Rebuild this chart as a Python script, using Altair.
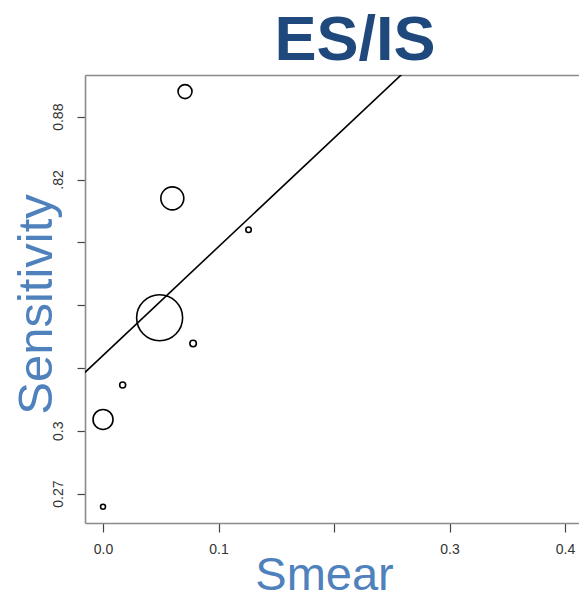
import altair as alt
import pandas as pd

# ---- data ----
smear = [0.071, 0.060, 0.126, 0.049, 0.078, 0.017, 0.0, 0.0]
sens_pos = [6.40, 4.70, 4.20, 2.80, 2.39, 1.73, 1.18, -0.21]   # position in y-tick units
weight = [196, 529, 30, 2116, 42, 36, 400, 25]                  # bubble weights (relative area)

x_ticks = [0.0, 0.1, 0.2, 0.3, 0.4]
x_labels = ["0.0", "0.1", "", "0.3", "0.4"]
y_ticks = [0, 1, 2, 3, 4, 5, 6]
y_labels = ["0.27", "0.3", "", "", "", ".82", "0.88"]

x_domain = [-0.0156, 0.4121]
y_domain = [-0.468, 6.664]

fit_intercept = 2.20
fit_slope = 17.3

pts = pd.DataFrame({"Smear": smear, "Sens": sens_pos, "Weight": weight})
fit = pd.DataFrame({"Smear": x_domain,
                    "Sens": [fit_intercept + fit_slope * v for v in x_domain]})


def label_expr(ticks, labels):
    expr = "''"
    for t, l in reversed(list(zip(ticks, labels))):
        expr = f"abs(datum.value - {t}) < 1e-6 ? '{l}' : ({expr})"
    return expr


FONT = "Liberation Sans"
FRAME = "#8a8a8a"

x_scale = alt.Scale(domain=x_domain, nice=False, zero=False)
y_scale = alt.Scale(domain=y_domain, nice=False, zero=False)

x_axis = alt.Axis(
    orient="bottom",
    values=x_ticks, labelExpr=label_expr(x_ticks, x_labels), grid=False,
    tickSize=9, tickColor="#444444", tickWidth=1.2,
    domainColor=FRAME, domainWidth=1.6,
    labelFont=FONT, labelFontSize=14, labelColor="#333333", labelPadding=10,
    title="Smear", titleFont=FONT, titleFontSize=47, titleFontWeight="normal",
    titleColor="#4F81BD", titleX=239, titleY=66, titleAlign="center",
    titleBaseline="alphabetic",
)
y_axis = alt.Axis(
    values=y_ticks, labelExpr=label_expr(y_ticks, y_labels), grid=False,
    tickSize=8, tickColor="#444444", tickWidth=1.2,
    domainColor=FRAME, domainWidth=1.6,
    labelFont=FONT, labelFontSize=14, labelColor="#333333", labelPadding=12,
    labelAngle=-90, labelAlign="center", labelBaseline="bottom",
    title="Sensitivity", titleFont=FONT, titleFontSize=49, titleFontWeight="normal",
    titleColor="#4F81BD", titleAngle=-90, titleX=-34, titleY=229,
    titleAlign="center", titleBaseline="alphabetic",
)
top_axis = alt.Axis(orient="top", labels=False, ticks=False, title=None, grid=False,
                    domainColor=FRAME, domainWidth=1.6)

points = alt.Chart(pts).mark_point(
    shape="circle", filled=False, stroke="black", strokeWidth=1.6, opacity=1
).encode(
    x=alt.X("Smear:Q", scale=x_scale, axis=x_axis),
    y=alt.Y("Sens:Q", scale=y_scale, axis=y_axis),
    size=alt.Size("Weight:Q", scale=alt.Scale(domain=[0, max(weight)], range=[0, 2116]),
                  legend=None),
)

line = alt.Chart(fit).mark_line(color="black", strokeWidth=1.6, clip=True).encode(
    x=alt.X("Smear:Q", scale=x_scale, axis=top_axis),
    y=alt.Y("Sens:Q", scale=y_scale),
)

chart = alt.layer(line, points).resolve_scale(x="independent").properties(
    width=494, height=448,
    autosize=alt.AutoSizeParams(type="none"),
    padding={"left": 77, "top": 67, "right": 0, "bottom": 68},
    title=alt.TitleParams(
        "ES/IS", font=FONT, fontSize=63, fontWeight="bold", color="#1F497D",
        anchor="middle", frame="group", dx=23, offset=2,
    ),
).configure_view(stroke=None)

chart.save("out.html", embed_options={"renderer": "svg", "actions": False})
